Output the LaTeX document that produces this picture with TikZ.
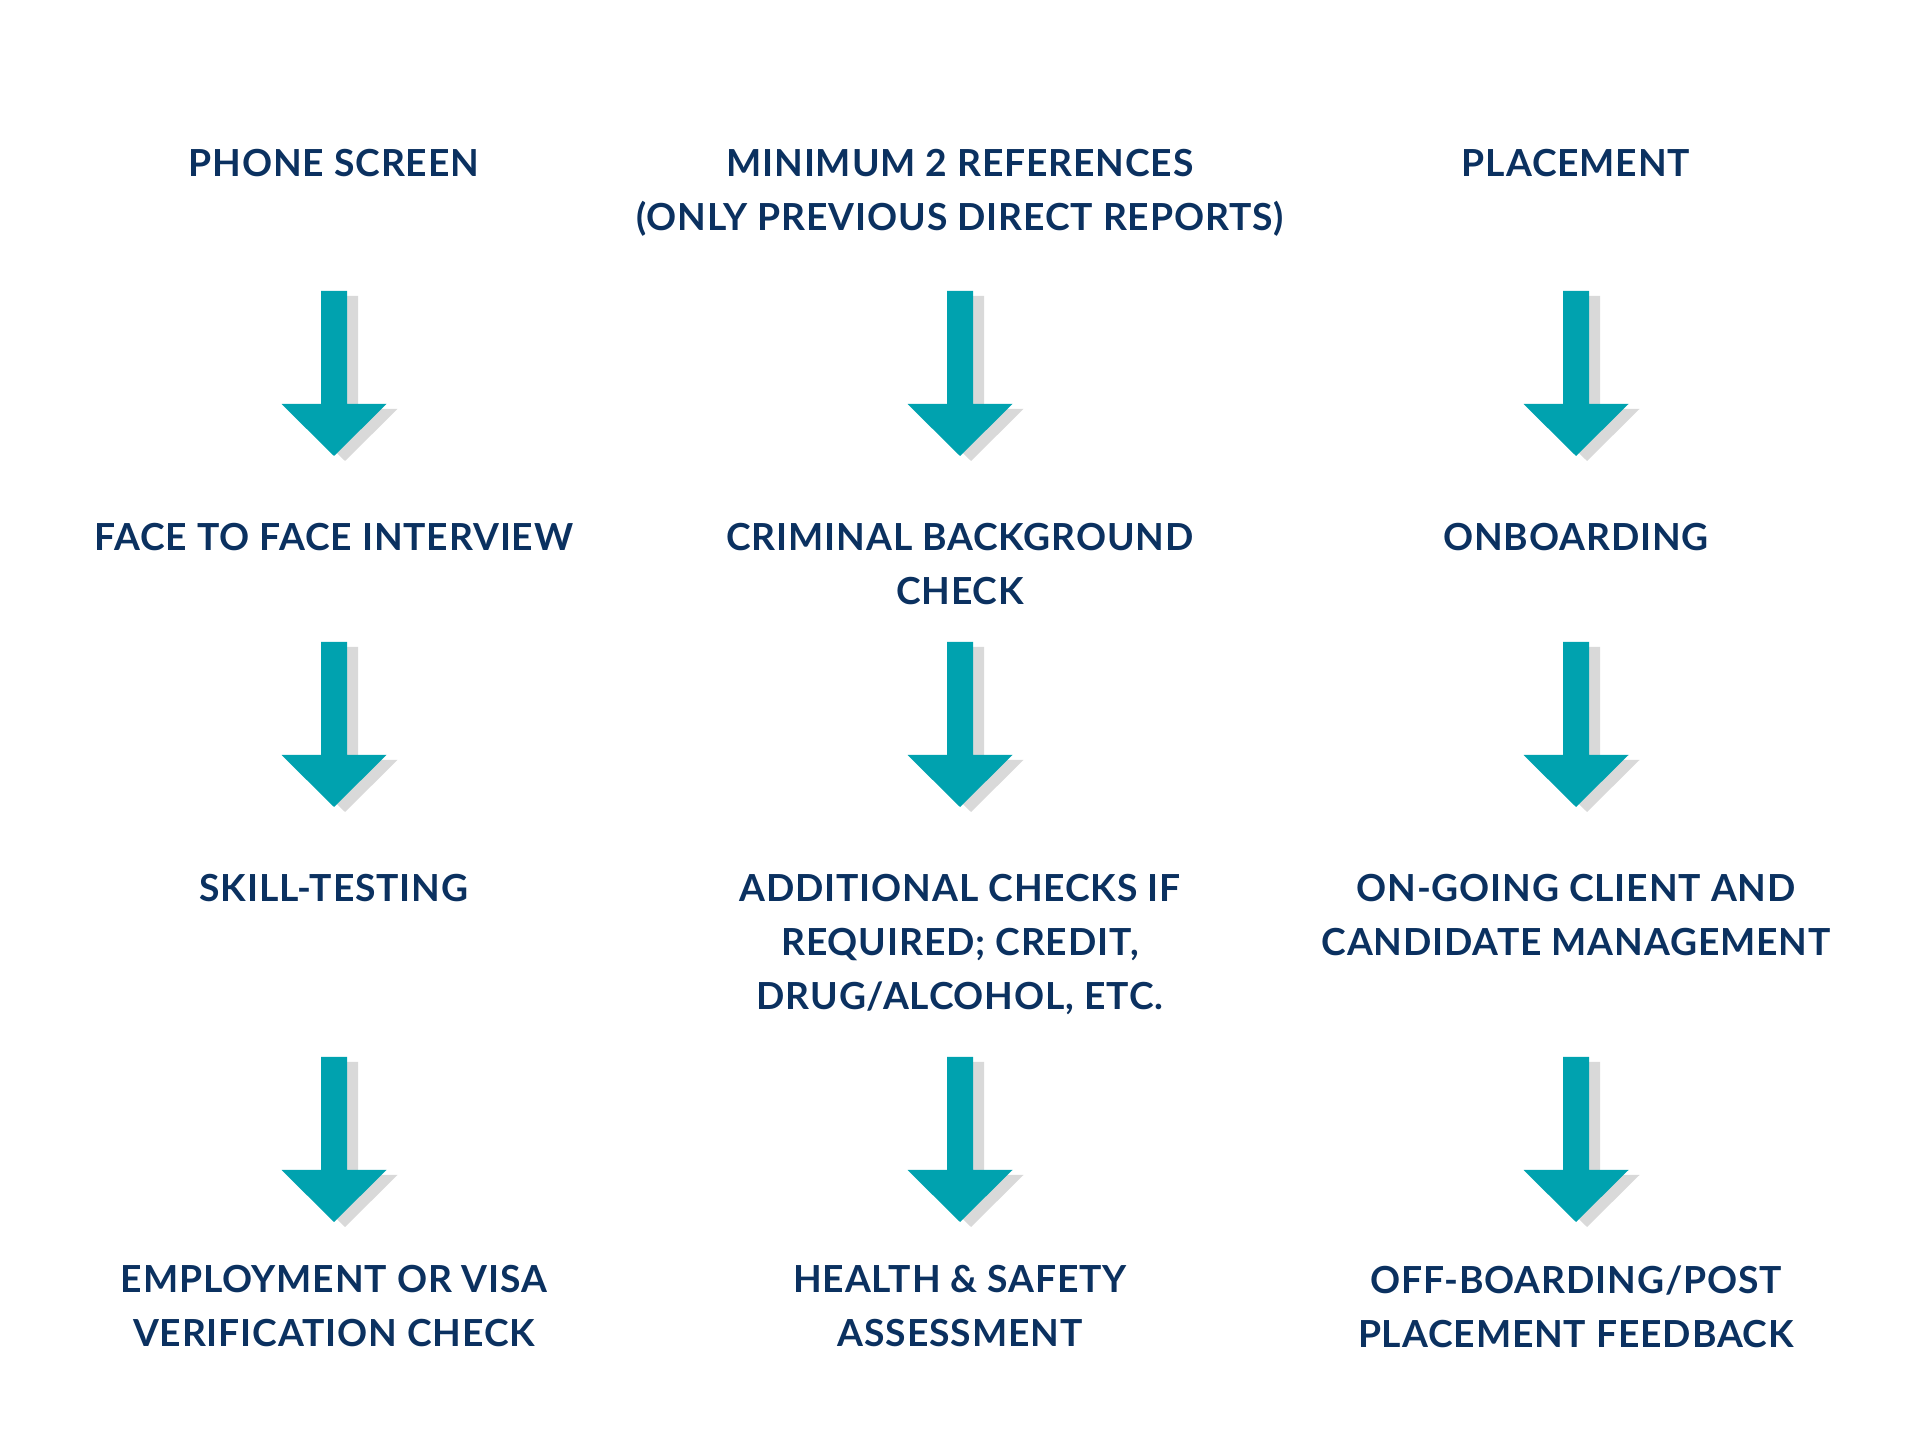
\documentclass[tikz,border=0pt]{standalone}
\usepackage{fontspec}
\setmainfont{Lato}[LetterSpace=2.3]
\definecolor{navy}{HTML}{0B3160}
\definecolor{arrowteal}{HTML}{00A2AF}
\definecolor{shadowgray}{HTML}{D9D9D9}
\begin{document}
\begin{tikzpicture}[x=0.01cm,y=-0.01cm,
  lbl/.style={anchor=north,inner sep=0pt,align=center,text=navy,
    font=\fontsize{10.6pt}{15.4pt}\selectfont\bfseries},
  downarrow/.pic={
    \fill[shadowgray] (-2,5) -- (24,5) -- (24,118) -- (63.5,118) -- (11,170) -- (-41.5,118) -- (-2,118) -- cycle;
    \fill[arrowteal] (-13,0) -- (13,0) -- (13,113) -- (52.5,113) -- (0,165) -- (-52.5,113) -- (-13,113) -- cycle;
  }]
\useasboundingbox (0,0) rectangle (1920,1440);
% column centres 334, 960, 1576
\node[lbl] (a1) at (334,148.2) {PHONE SCREEN};
\node[lbl] (a2) at (334,522.6) {FACE TO FACE INTERVIEW};
\node[lbl] (a3) at (334,873.1) {SKILL-TESTING};
\node[lbl] (a4) at (334,1264.6) {EMPLOYMENT OR VISA\\VERIFICATION CHECK};
\node[lbl] (b1) at (960,148.2) {MINIMUM 2 REFERENCES\\(ONLY PREVIOUS DIRECT REPORTS)};
\node[lbl] (b2) at (960,522.6) {CRIMINAL BACKGROUND\\CHECK};
\node[lbl] (b3) at (960,873.1) {ADDITIONAL CHECKS IF\\REQUIRED; CREDIT,\\DRUG/ALCOHOL, ETC.};
\node[lbl] (b4) at (960,1264.6) {HEALTH \& SAFETY\\ASSESSMENT};
\node[lbl] (c1) at (1576,148.2) {PLACEMENT};
\node[lbl] (c2) at (1576,522.6) {ONBOARDING};
\node[lbl] (c3) at (1576,873.1) {ON-GOING CLIENT AND\\CANDIDATE MANAGEMENT};
\node[lbl] (c4) at (1576,1264.6) {OFF-BOARDING/POST\\PLACEMENT FEEDBACK};
\foreach \cx in {334,960,1576}{
  \foreach \ty in {291,642,1057}{
    \pic at (\cx,\ty) {downarrow};
  }
}
\end{tikzpicture}
\end{document}
